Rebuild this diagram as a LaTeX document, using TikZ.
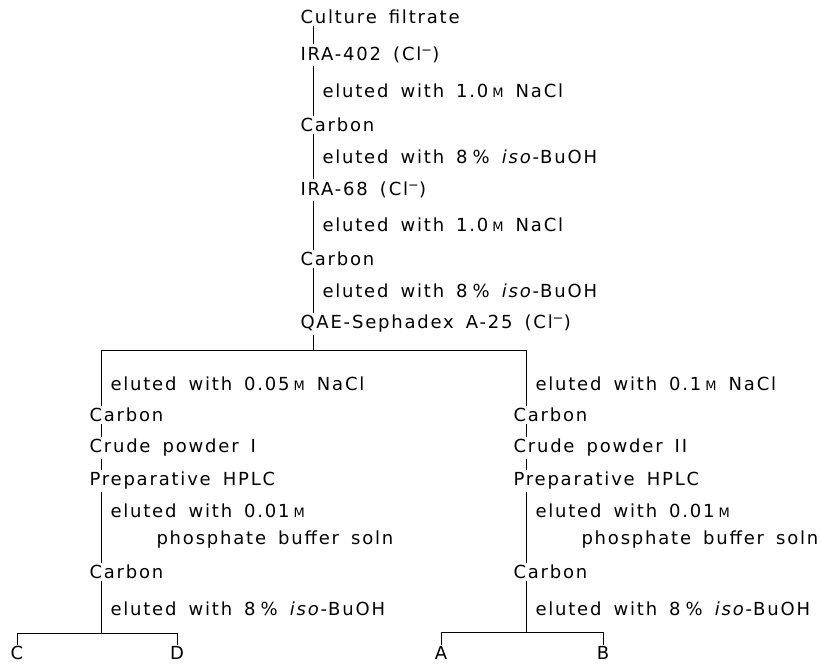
\documentclass[tikz,border=0pt]{standalone}
\usepackage{fontspec}
\setmainfont[LetterSpace=10,WordSpace=1.6]{DejaVu Sans}
\usetikzlibrary{positioning}
\newcommand{\Mol}{{\fontsize{13}{13}\selectfont M}}
\newcommand{\isoBu}{8\hspace{5pt}\%~\textit{iso}-BuOH}
\begin{document}
\begin{tikzpicture}[x=1pt,y=-1pt,line width=1pt,
  every node/.style={font=\fontsize{18}{27}\selectfont,inner sep=2pt},
  item/.style={anchor=west},
  elut/.style={anchor=west,xshift=7pt,align=left},
  prod/.style={anchor=north,inner sep=1pt}]
\useasboundingbox (0,0) rectangle (821,665);
\coordinate (axM) at (313,0);
\coordinate (axL) at (101,0);
\coordinate (axR) at (526,0);
% main column
\node[item] (cf) at (298,17) {Culture filtrate};
\node[item] (ira4) at (298,55) {IRA-402 (Cl\textsuperscript{−})};
\node[item] (c1) at (298,125) {Carbon};
\node[item] (ira6) at (298,190) {IRA-68 (Cl\textsuperscript{−})};
\node[item] (c2) at (298,259) {Carbon};
\node[item] (qae) at (298,324) {QAE-Sephadex A-25 (Cl\textsuperscript{−})};
\draw (cf.south -| axM) -- (ira4.north -| axM);
\draw (ira4.south -| axM) -- node[elut]{eluted with 1.0\hspace{4pt}\Mol\ NaCl} (c1.north -| axM);
\draw (c1.south -| axM) -- node[elut]{eluted with \isoBu} (ira6.north -| axM);
\draw (ira6.south -| axM) -- node[elut]{eluted with 1.0\hspace{4pt}\Mol\ NaCl} (c2.north -| axM);
\draw (c2.south -| axM) -- node[elut]{eluted with \isoBu} (qae.north -| axM);
\coordinate (sp) at (313,350);
\coordinate (spL) at (101,350);
\coordinate (spR) at (526,350);
\draw (qae.south -| axM) -- (sp);
\draw (spL) -- (spR);
% left branch
\node[item] (lc1) at (87,415) {Carbon};
\node[item] (lcp) at (87,448) {Crude powder I};
\node[item] (lhp) at (87,481) {Preparative HPLC};
\node[item] (lc2) at (87,572) {Carbon};
\draw (spL) -- node[elut,yshift=-6pt]{eluted with 0.05\hspace{4pt}\Mol\ NaCl} (lc1.north -| axL);
\draw (lc1.south -| axL) -- (lcp.north -| axL);
\draw (lcp.south -| axL) -- (lhp.north -| axL);
\draw (lhp.south -| axL) -- node[elut,yshift=1pt]{eluted with 0.01\hspace{4pt}\Mol\\\hspace*{46pt}phosphate buffer soln} (lc2.north -| axL);
\coordinate (bL) at (101,633);
\draw (lc2.south -| axL) -- node[elut,yshift=-2pt]{eluted with \isoBu} (bL);
\node[prod] (C) at (17,645) {C};
\node[prod] (D) at (177,645) {D};
\draw (C.north) |- (bL) -| (D.north);
% right branch
\node[item] (rc1) at (511,415) {Carbon};
\node[item] (rcp) at (511,448) {Crude powder II};
\node[item] (rhp) at (511,481) {Preparative HPLC};
\node[item] (rc2) at (511,572) {Carbon};
\draw (spR) -- node[elut,yshift=-6pt]{eluted with 0.1\hspace{4pt}\Mol\ NaCl} (rc1.north -| axR);
\draw (rc1.south -| axR) -- (rcp.north -| axR);
\draw (rcp.south -| axR) -- (rhp.north -| axR);
\draw (rhp.south -| axR) -- node[elut,yshift=1pt]{eluted with 0.01\hspace{4pt}\Mol\\\hspace*{46pt}phosphate buffer soln} (rc2.north -| axR);
\coordinate (bR) at (526,632);
\draw (rc2.south -| axR) -- node[elut,yshift=-2pt]{eluted with \isoBu} (bR);
\node[prod] (A) at (441,645) {A};
\node[prod] (B) at (603,645) {B};
\draw (A.north) |- (bR) -| (B.north);
\end{tikzpicture}
\end{document}
